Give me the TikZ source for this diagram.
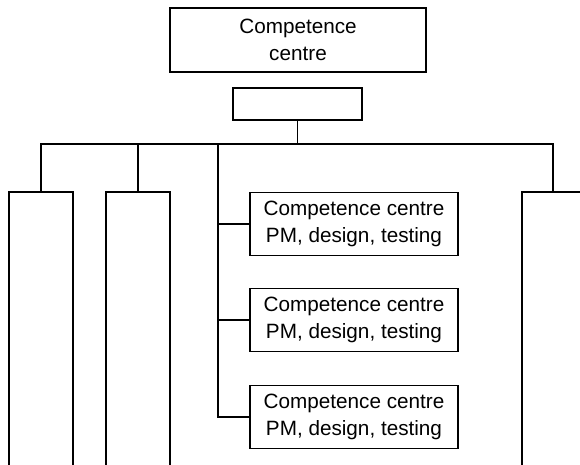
\documentclass[tikz,border=0pt]{standalone}
\usepackage{fontspec}
\setmainfont{Liberation Sans}
\usetikzlibrary{positioning}
\tikzset{unit/.style={draw,line width=1.2pt,inner sep=0pt,align=center,font=\fontsize{20.7}{26.5}\selectfont},
  column/.style={unit,minimum width=64pt,minimum height=298pt},
  cc/.style={unit,minimum width=208pt,minimum height=63pt}}

\begin{document}
\begin{tikzpicture}[x=1pt,y=-1pt,line width=1.2pt]
    \useasboundingbox (0,0) rectangle (580,464);
    \clip (0,0) rectangle (580,464);

    % head
    \node[unit,minimum width=256pt,minimum height=64pt] (centre) at (298,40) {Competence\\centre};
    \node[unit,minimum width=129pt,minimum height=32pt] (lead) at (297.5,104) {};
    \coordinate (bus) at (297.5,144);

    % columns (run past the lower edge)
    \node[column] (colA) at (41,341) {};
    \node[column] (colB) at (138,341) {};
    \node[column,minimum width=62pt] (colR) at (553,341) {};

    % competence centres
    \node[cc] (pm1) at (354,224) {Competence centre\\PM, design, testing};
    \node[cc] (pm2) at (354,320) {Competence centre\\PM, design, testing};
    \node[cc] (pm3) at (354,417) {Competence centre\\PM, design, testing};
    \coordinate (spine) at (218,144);

    % lines
    \draw (lead.south) -- (bus);
    \draw (colA.north) |- (colR.north |- bus) -- (colR.north);
    \draw (colB.north) -- (colB.north |- bus);
    \draw (spine) |- (pm3.west);
    \draw (spine |- pm1.west) -- (pm1.west);
    \draw (spine |- pm2.west) -- (pm2.west);
\end{tikzpicture}
\end{document}
